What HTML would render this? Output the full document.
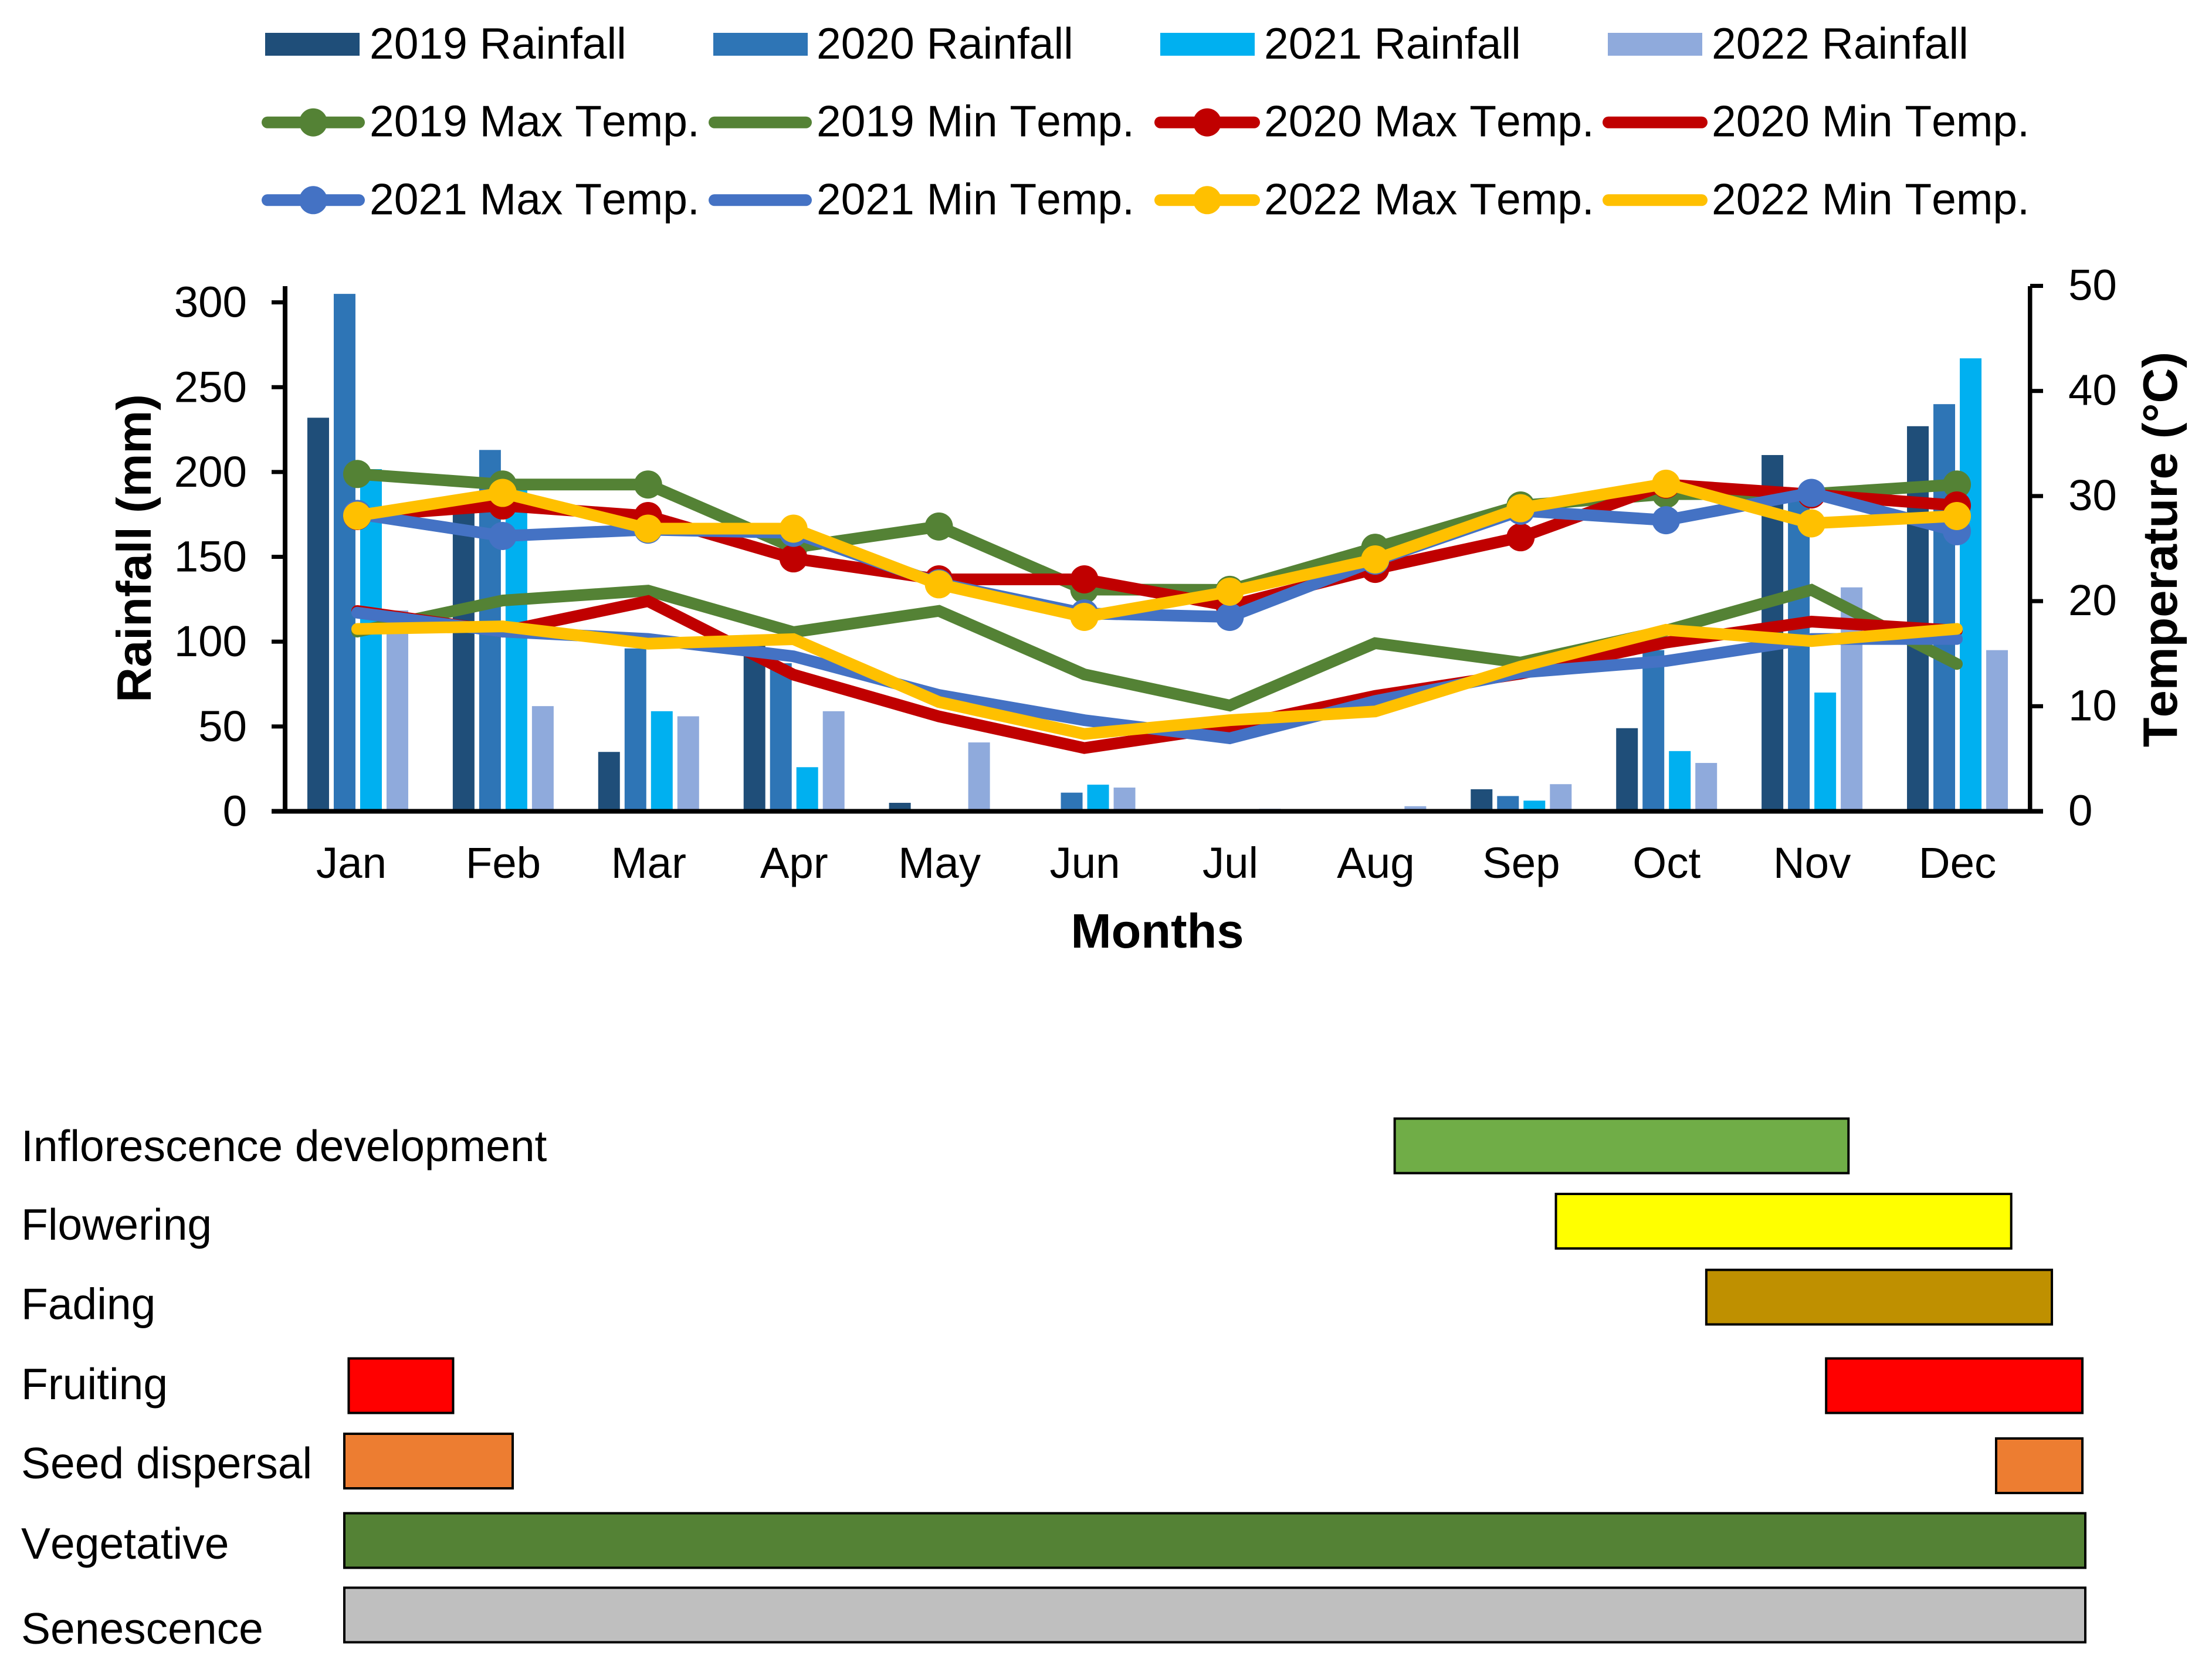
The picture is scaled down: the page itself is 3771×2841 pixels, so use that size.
<!DOCTYPE html>
<html lang="en">
<head>
<meta charset="utf-8">
<title>Rainfall, temperature and phenology by month</title>
<style>
html,body{margin:0;padding:0;background:#fff;}
svg{display:block;}
text{font-family:"Liberation Sans",Arial,sans-serif;fill:#000;font-size:74.5px;font-kerning:none;}
</style>
</head>
<body>
<svg id="fig" xmlns="http://www.w3.org/2000/svg" width="3771" height="2841" viewBox="0 0 3771 2841">
<rect x="0" y="0" width="3771" height="2841" fill="#ffffff"/>
<g id="bars"></g>
<g id="lines"></g>
<g id="axes"></g>
<text x="1973" y="1616" text-anchor="middle" font-weight="bold" style="font-size:83px">Months</text>
<text transform="translate(257,935) rotate(-90)" text-anchor="middle" font-weight="bold" style="font-size:83px">Rainfall (mm)</text>
<text transform="translate(3711,937) rotate(-90)" text-anchor="middle" font-weight="bold" style="font-size:83px">Temperature (°C)</text>
<g id="legend"></g>
<g id="gantt"></g>
</svg>
<script>
const months = ['Jan','Feb','Mar','Apr','May','Jun','Jul','Aug','Sep','Oct','Nov','Dec'];
const rainTicks = [0,50,100,150,200,250,300];
const tempTicks = [0,10,20,30,40,50];

const rain2019 = [232,178,35,104,5,0,0,0,13,49,210,227];
const rain2020 = [305,213,96,87.3,0,11,0,0,9,95,187,240];
const rain2021 = [201.7,190,59,26,0,15.7,0,0,6.3,35.5,70,267];
const rain2022 = [118.4,62,56,59,40.6,14,1.5,3,16,28.5,132,95];

const max2019 = [32.1,31.1,31.1,25.1,27.1,21.1,21.07,25.08,29.1,30.18,30.2,31.1];
const min2019 = [17.1,20.06,21,17.05,19.07,13.03,10.07,16,14.15,17.2,21.07,14.02];
const max2020 = [28.1,29.1,28.1,24.07,22.07,22.07,19.55,23.07,26.08,31.1,30.15,29.1];
const min2020 = [19.06,17.1,20,13,9.03,6.02,8.06,10.98,13.1,16.06,18.05,17.2];
const max2021 = [28.3,26.2,26.8,26.5,21.7,18.83,18.5,23.85,28.6,27.7,30.3,26.65];
const min2021 = [18.9,17.1,16.4,14.75,11.07,8.67,6.95,10.5,13.2,14.3,16.4,16.4];
const max2022 = [28.13,30.3,26.9,26.9,21.6,18.5,20.9,23.97,28.84,31.17,27.4,28.1];
const min2022 = [17.35,17.6,15.95,16.38,10.4,7.36,8.67,9.5,13.77,17.27,16.2,17.36];

const ganttPhases = ['Inflorescence development','Flowering','Fading','Fruiting','Seed dispersal','Vegetative','Senescence'];
const ganttSegmentPhase = ['Inflorescence development','Flowering','Fading','Fruiting','Fruiting','Seed dispersal','Seed dispersal','Vegetative','Senescence'];
const ganttSegmentStart = [7.23,8.34,9.375,0.03,10.2,0,11.37,0,0];
const ganttSegmentEnd = [10.37,11.49,11.77,0.765,11.98,1.175,11.98,12,12];

const NS = 'http://www.w3.org/2000/svg';
const X0 = 486, X1 = 3461, Y0 = 1383.5;
function xBand(i){ return X0 + (X1 - X0) / months.length * (i + 0.5); }
function xPoint(i){ return xBand(i) - 1; }
function yRain(v){ return Y0 - v * 2.893; }
function yTemp(v){ return Y0 - v * 17.92; }
function xGantt(m){ return 585 + m * (3557 - 585) / 12; }
function make(tag, parent){
  const el = document.createElementNS(NS, tag);
  parent.appendChild(el);
  return el;
}

/* ---------- bars ---------- */
const barsG = document.getElementById('bars');
const barSeries = [
  {year:'2019', values:rain2019, color:'#1F4E79', off:-67.5},
  {year:'2020', values:rain2020, color:'#2E75B6', off:-22.5},
  {year:'2021', values:rain2021, color:'#00B0F0', off:22.5},
  {year:'2022', values:rain2022, color:'#8FAADC', off:67.5}
];
barSeries.forEach(function(s){
  s.values.forEach(function(v, i){
    const el = make('rect', barsG);
    
    
    el.setAttribute('x', xBand(i) + s.off - 18.5);
    el.setAttribute('y', yRain(v));
    el.setAttribute('width', 37);
    el.setAttribute('height', Math.max(0, Y0 - yRain(v)));
    el.setAttribute('fill', s.color);
  });
});

/* ---------- lines ---------- */
const linesG = document.getElementById('lines');
const lineSeries = [
  {name:'2019-max-temp', values:max2019, color:'#548235', marker:true},
  {name:'2019-min-temp', values:min2019, color:'#548235', marker:false},
  {name:'2020-max-temp', values:max2020, color:'#C00000', marker:true},
  {name:'2020-min-temp', values:min2020, color:'#C00000', marker:false},
  {name:'2021-max-temp', values:max2021, color:'#4472C4', marker:true},
  {name:'2021-min-temp', values:min2021, color:'#4472C4', marker:false},
  {name:'2022-max-temp', values:max2022, color:'#FFC000', marker:true},
  {name:'2022-min-temp', values:min2022, color:'#FFC000', marker:false}
];
lineSeries.forEach(function(s){
  const pts = s.values.map(function(v, i){ return xPoint(i) + ',' + yTemp(v); }).join(' ');
  const line = make('polyline', linesG);
  
  
  line.setAttribute('points', pts);
  line.setAttribute('fill', 'none');
  line.setAttribute('stroke', s.color);
  line.setAttribute('stroke-width', 20);
  line.setAttribute('stroke-linecap', 'round');
  line.setAttribute('stroke-linejoin', 'miter');
  if (s.marker) {
    s.values.forEach(function(v, i){
      const c = make('circle', linesG);
      
      
      c.setAttribute('cx', xPoint(i));
      c.setAttribute('cy', yTemp(v));
      c.setAttribute('r', 24);
      c.setAttribute('fill', s.color);
    });
  }
});

/* ---------- axes ---------- */
const axesG = document.getElementById('axes');
function axisRect(name, x, y, w, h){
  const r = make('rect', axesG);
  
  
  r.setAttribute('x', x);
  r.setAttribute('y', y);
  r.setAttribute('width', w);
  r.setAttribute('height', h);
  r.setAttribute('fill', '#000');
}
axisRect('left-y-axis-line', X0 - 4, 488, 8, 899);
axisRect('right-y-axis-line', X1 - 4, 488, 7.5, 899);
axisRect('x-axis-line', 463, Y0 - 4, 3020, 8);
rainTicks.forEach(function(v){
  if (v > 0) axisRect('left-tick-' + v, 463, yRain(v) - 3.5, 23, 7);
  const t = make('text', axesG);
  
  
  t.setAttribute('x', 421);
  t.setAttribute('y', yRain(v) + 25);
  t.setAttribute('text-anchor', 'end');
  t.textContent = v;
});
tempTicks.forEach(function(v){
  if (v > 0) axisRect('right-tick-' + v, X1, yTemp(v) - 3.5, 22, 7);
  const t = make('text', axesG);
  
  
  t.setAttribute('x', 3526);
  t.setAttribute('y', yTemp(v) + 24);
  t.textContent = v;
});
months.forEach(function(m, i){
  const t = make('text', axesG);
  
  
  t.setAttribute('x', xBand(i) + (i === 0 ? -11 : 0));
  t.setAttribute('y', 1497);
  t.setAttribute('text-anchor', 'middle');
  t.textContent = m;
});

/* ---------- legend ---------- */
const legendG = document.getElementById('legend');
const legendCols = [452, 1216, 1978, 2741];
const legendTextX = [630, 1392, 2155, 2918];
const legendLineX = [[446,622],[1208,1384],[1968,2148],[2732,2911]];
const legendRain = ['2019 Rainfall','2020 Rainfall','2021 Rainfall','2022 Rainfall'];
const legendRainColor = ['#1F4E79','#2E75B6','#00B0F0','#8FAADC'];
const legendRow2 = ['2019 Max Temp.','2019 Min Temp.','2020 Max Temp.','2020 Min Temp.'];
const legendRow2Color = ['#548235','#548235','#C00000','#C00000'];
const legendRow3 = ['2021 Max Temp.','2021 Min Temp.','2022 Max Temp.','2022 Min Temp.'];
const legendRow3Color = ['#4472C4','#4472C4','#FFC000','#FFC000'];
function legendLabel(label, col, baseline){
  const t = make('text', legendG);
  
  
  t.setAttribute('x', legendTextX[col]);
  t.setAttribute('y', baseline);
  t.setAttribute('style', 'font-size:75px');
  t.textContent = label;
}
legendRain.forEach(function(label, i){
  const r = make('rect', legendG);
  
  
  r.setAttribute('x', legendCols[i]);
  r.setAttribute('y', 56);
  r.setAttribute('width', 161);
  r.setAttribute('height', 39);
  r.setAttribute('fill', legendRainColor[i]);
  legendLabel(label, i, 100);
});
function legendLineRow(labels, colors, cy, baseline){
  labels.forEach(function(label, i){
    const l = make('line', legendG);
    
    
    l.setAttribute('x1', legendLineX[i][0] + 10);
    l.setAttribute('x2', legendLineX[i][1] - 10);
    l.setAttribute('y1', cy);
    l.setAttribute('y2', cy);
    l.setAttribute('stroke', colors[i]);
    l.setAttribute('stroke-width', 20);
    l.setAttribute('stroke-linecap', 'round');
    if (i % 2 === 0) {
      const c = make('circle', legendG);
      
      
      c.setAttribute('cx', (legendLineX[i][0] + legendLineX[i][1]) / 2);
      c.setAttribute('cy', cy);
      c.setAttribute('r', 24);
      c.setAttribute('fill', colors[i]);
    }
    legendLabel(label, i, baseline);
  });
}
legendLineRow(legendRow2, legendRow2Color, 208.7, 232.7);
legendLineRow(legendRow3, legendRow3Color, 341.3, 365.7);

/* ---------- gantt ---------- */
const ganttG = document.getElementById('gantt');
const phaseLabelBaseline = {'Inflorescence development':1980,'Flowering':2114,'Fading':2249.5,'Fruiting':2386,'Seed dispersal':2521,'Vegetative':2658,'Senescence':2803};
const phaseCenter = {'Inflorescence development':1954,'Flowering':2082.5,'Fading':2212,'Fruiting':2363,'Seed dispersal':2491.5,'Vegetative':2627,'Senescence':2754};
const phaseColor = {'Inflorescence development':'#70AD47','Flowering':'#FFFF00','Fading':'#BF9000','Fruiting':'#FF0000','Seed dispersal':'#ED7D31','Vegetative':'#548235','Senescence':'#BFBFBF'};
ganttPhases.forEach(function(p){
  const t = make('text', ganttG);
  
  
  t.setAttribute('x', 36);
  t.setAttribute('y', phaseLabelBaseline[p]);
  t.setAttribute('style', 'font-size:75px');
  t.textContent = p;
});
ganttSegmentPhase.forEach(function(p, i){
  const nudge = (p === 'Seed dispersal' && ganttSegmentStart[i] > 6) ? 8 : 0;
  const r = make('rect', ganttG);
  
  
  r.setAttribute('x', xGantt(ganttSegmentStart[i]) + 2);
  r.setAttribute('y', phaseCenter[p] + nudge - 46.5);
  r.setAttribute('width', xGantt(ganttSegmentEnd[i]) - xGantt(ganttSegmentStart[i]) - 4);
  r.setAttribute('height', 93);
  r.setAttribute('fill', phaseColor[p]);
  r.setAttribute('stroke', '#000');
  r.setAttribute('stroke-width', 4);
});
</script>
</body>
</html>
